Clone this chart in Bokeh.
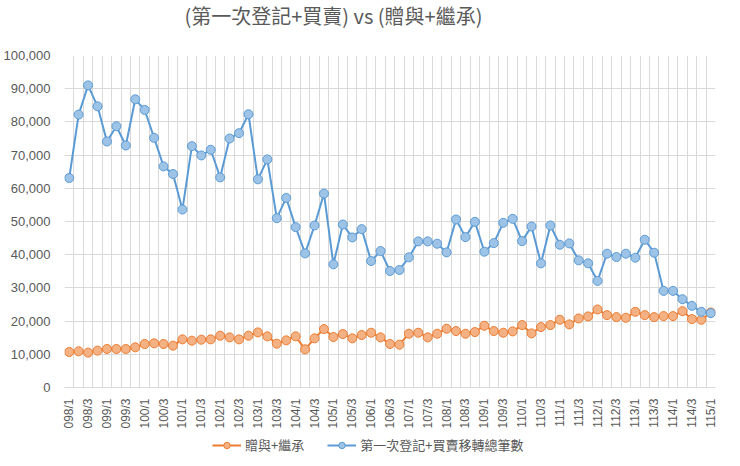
import math
from bokeh.plotting import figure
from bokeh.layouts import column
from bokeh.core.properties import value
from bokeh.models import (FixedTicker, NumeralTickFormatter, Legend, LegendItem, Range1d)
from bokeh.embed import file_html
from bokeh.resources import INLINE

categories = [f"{98 + i // 4:03d}/{i % 4 + 1}" for i in range(69)]

gift_inherit = [
    10700, 10900, 10500, 11100, 11600, 11600, 11600, 12100, 13100, 13300,
    13100, 12600, 14500, 14100, 14400, 14500, 15600, 15100, 14500, 15600,
    16600, 15400, 13200, 14200, 15400, 11500, 14800, 17600, 15200, 16100,
    14800, 15800, 16500, 15100, 13100, 12900, 16200, 16500, 15100, 16200,
    17700, 17000, 16200, 16700, 18600, 17000, 16500, 16900, 18800, 16300,
    18200, 18800, 20400, 19000, 20800, 21400, 23500, 21800, 21200, 21000,
    22800, 21800, 21200, 21500, 21500, 23000, 20600, 20400, 22600,
]

first_reg_sale = [
    63100, 82200, 91000, 84700, 74100, 78700, 72900, 86800, 83600, 75200,
    66600, 64300, 53600, 72700, 69900, 71600, 63300, 75000, 76600, 82300,
    62700, 68700, 51000, 57100, 48300, 40400, 48800, 58400, 37100, 49100,
    45200, 47700, 38100, 41100, 35100, 35400, 39200, 44000, 44000, 43300,
    40700, 50600, 45300, 49900, 40900, 43500, 49600, 50800, 44100, 48500,
    37400, 48800, 43000, 43400, 38300, 37400, 32100, 40300, 39300, 40300,
    39100, 44500, 40600, 29100, 29100, 26600, 24600, 22800, 22400,
]

series_labels = ["贈與+繼承", "第一次登記+買賣移轉總筆數"]
title_text = "(第一次登記+買賣) vs (贈與+繼承)"

x = list(range(len(categories)))
GRAY = "#595959"
FONT = "Noto Sans CJK TC"
ORANGE, ORANGE_FILL = "#ED7D31", "#F4B183"
BLUE, BLUE_FILL = "#5B9BD5", "#9DC3E6"


def strip(height):
    f = figure(width=724, height=height, output_backend="svg", toolbar_location=None,
               x_range=Range1d(0, 656), y_range=Range1d(0, height),
               x_axis_location=None, y_axis_location=None,
               min_border_left=0, min_border_right=0, min_border_top=0, min_border_bottom=0)
    f.outline_line_color = None
    f.grid.visible = False
    f.border_fill_color = "white"
    f.background_fill_color = "white"
    f.title.visible = False
    return f


# ---- title strip
tf = strip(36)
tf.text(x=[271], y=[21], text=[title_text], text_font=value(FONT), text_font_size="20px",
        text_color=GRAY, text_align="center", text_baseline="middle")

# ---- main chart
p = figure(width=724, height=395, output_backend="svg", toolbar_location=None,
           x_range=Range1d(-0.5, len(categories) - 0.5), y_range=Range1d(0, 100000),
           min_border_left=59, min_border_right=9, min_border_top=19, min_border_bottom=44)
p.title.visible = False
p.outline_line_color = None
p.background_fill_color = "white"
p.border_fill_color = "white"

p.yaxis.ticker = FixedTicker(ticks=list(range(0, 100001, 10000)))
p.yaxis.formatter = NumeralTickFormatter(format="0,0")
p.yaxis.axis_line_color = None
p.yaxis.major_tick_line_color = None
p.yaxis.minor_tick_line_color = None
p.yaxis.major_label_standoff = 8
p.yaxis.major_label_text_color = GRAY
p.yaxis.major_label_text_font = "Liberation Sans"
p.yaxis.major_label_text_font_size = "13px"

p.xaxis.ticker = FixedTicker(ticks=list(range(0, len(categories), 2)))
p.xaxis.major_label_overrides = {i: categories[i] for i in range(0, len(categories), 2)}
p.xaxis.major_label_orientation = math.pi / 2
p.xaxis.axis_line_color = "#d9d9d9"
p.xaxis.major_tick_line_color = None
p.xaxis.minor_tick_line_color = None
p.xaxis.major_label_standoff = 5
p.xaxis.major_label_text_color = GRAY
p.xaxis.major_label_text_font = "Liberation Sans"
p.xaxis.major_label_text_font_size = "12px"

p.ygrid.ticker = FixedTicker(ticks=list(range(0, 100001, 10000)))
p.ygrid.grid_line_color = "#d9d9d9"
p.xgrid.ticker = FixedTicker(ticks=[i - 0.5 for i in range(len(categories) + 1)])
p.xgrid.grid_line_color = "#d9d9d9"

p.line(x, gift_inherit, line_color=ORANGE, line_width=2)
p.scatter(x, gift_inherit, size=9, fill_color=ORANGE_FILL, line_color=ORANGE, line_width=1)
p.line(x, first_reg_sale, line_color=BLUE, line_width=2)
p.scatter(x, first_reg_sale, size=9, fill_color=BLUE_FILL, line_color=BLUE, line_width=1)

# ---- legend strip (proxy renderers lie outside its visible range)
lg = strip(35)
ol = lg.line(x[:2], gift_inherit[:2], line_color=ORANGE, line_width=2)
osc = lg.scatter(x[:1], gift_inherit[:1], size=9, fill_color=ORANGE_FILL, line_color=ORANGE, line_width=1)
bl = lg.line(x[:2], first_reg_sale[:2], line_color=BLUE, line_width=2)
bsc = lg.scatter(x[:1], first_reg_sale[:1], size=9, fill_color=BLUE_FILL, line_color=BLUE, line_width=1)

legend = Legend(items=[LegendItem(label=series_labels[0], renderers=[ol, osc]),
                       LegendItem(label=series_labels[1], renderers=[bl, bsc])],
                orientation="horizontal", location=(148, 12),
                label_text_font=FONT, label_text_font_size="13px", label_text_color=GRAY,
                glyph_width=29, glyph_height=16, label_height=16, label_standoff=4, spacing=23,
                padding=0, margin=0, border_line_color=None, background_fill_alpha=0)
lg.add_layout(legend, "center")

layout = column(tf, p, lg, spacing=0)
open("out.html", "w").write(file_html(layout, INLINE))
